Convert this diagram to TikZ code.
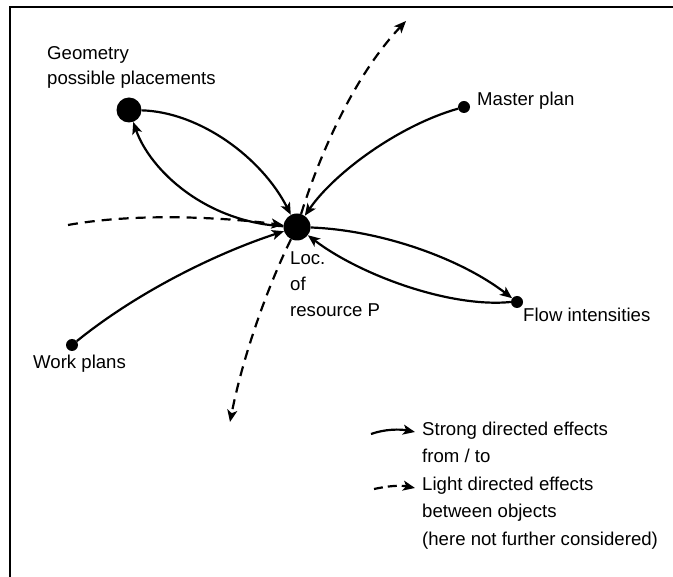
\documentclass[tikz,border=0pt]{standalone}
\usepackage{fontspec}
\setmainfont{Liberation Sans}
\usetikzlibrary{arrows.meta}
\begin{document}
\begin{tikzpicture}[x=1pt,y=-1pt,
  lbl/.style={anchor=base west,inner sep=0pt,font=\fontsize{18.6}{25}\selectfont},
  bigdot/.style={circle,fill=black,inner sep=0pt,minimum size=25pt},
  smalldot/.style={circle,fill=black,inner sep=0pt,minimum size=12pt},
  tip/.style={-{Stealth[length=12pt,width=10pt,inset=3pt]}},
  strong/.style={line width=2.2pt,tip},
  light/.style={line width=2.2pt,dash pattern=on 10pt off 7pt,tip}]
\useasboundingbox (0,0) rectangle (673,577);
\draw[line width=2pt] (10,577) -- (10,7) -- (673,7);
% nodes
\node[bigdot] (geo) at (129,110) {};
\node[bigdot,minimum size=27pt] (loc) at (297,227) {};
\node[smalldot] (master) at (464,107) {};
\node[smalldot] (flow) at (517,302) {};
\node[smalldot] (work) at (72,345) {};
% labels
\node[lbl] (geoL1) at (47,60) {Geometry};
\node[lbl] (geoL2) at (47,85) {possible placements};
\node[lbl] (masterL) at (477,106) {Master plan};
\node[lbl] (locL1) at (290,265) {Loc.};
\node[lbl] (locL2) at (290,291) {of};
\node[lbl] (locL3) at (290,317) {resource P};
\node[lbl] (flowL) at (523,322) {Flow intensities};
\node[lbl] (workL) at (33,369) {Work plans};
% strong effects
\draw[strong] (geo) .. controls (200,112) and (262,158) .. (loc);
\draw[strong] (loc) .. controls (205,222) and (150,170) .. (geo);
\draw[strong] (master) .. controls (400,125) and (335,172) .. (loc);
\draw[strong] (work) .. controls (140,290) and (220,252) .. (loc);
\draw[strong] (loc) .. controls (380,230) and (460,258) .. (flow);
\draw[strong] (flow.west) .. controls (450,308) and (360,275) .. (loc);
% light effects
\coordinate (dl) at (68,225);
\coordinate (dtop) at (406,21);
\coordinate (dbot) at (230,422);
\draw[light] (dl) .. controls (140,212) and (230,218) .. (loc);
\draw[light] (loc) .. controls (318,160) and (352,78) .. (dtop);
\draw[light] (loc) .. controls (266,290) and (242,360) .. (dbot);
% legend
\coordinate (ls1) at (371,434);
\coordinate (le1) at (415,432);
\coordinate (ls2) at (374,489);
\coordinate (le2) at (415,488);
\draw[strong] (ls1) .. controls (385,429) and (400,429) .. (le1);
\draw[line width=2.2pt,dash pattern=on 9pt off 5pt,tip] (ls2) .. controls (388,486) and (400,485) .. (le2);
\node[lbl] (leg1) at (422,436) {Strong directed effects};
\node[lbl] (leg2) at (422,463) {from / to};
\node[lbl] (leg3) at (422,491) {Light directed effects};
\node[lbl] (leg4) at (422,518) {between objects};
\node[lbl] (leg5) at (422,546) {(here not further considered)};
\end{tikzpicture}
\end{document}
